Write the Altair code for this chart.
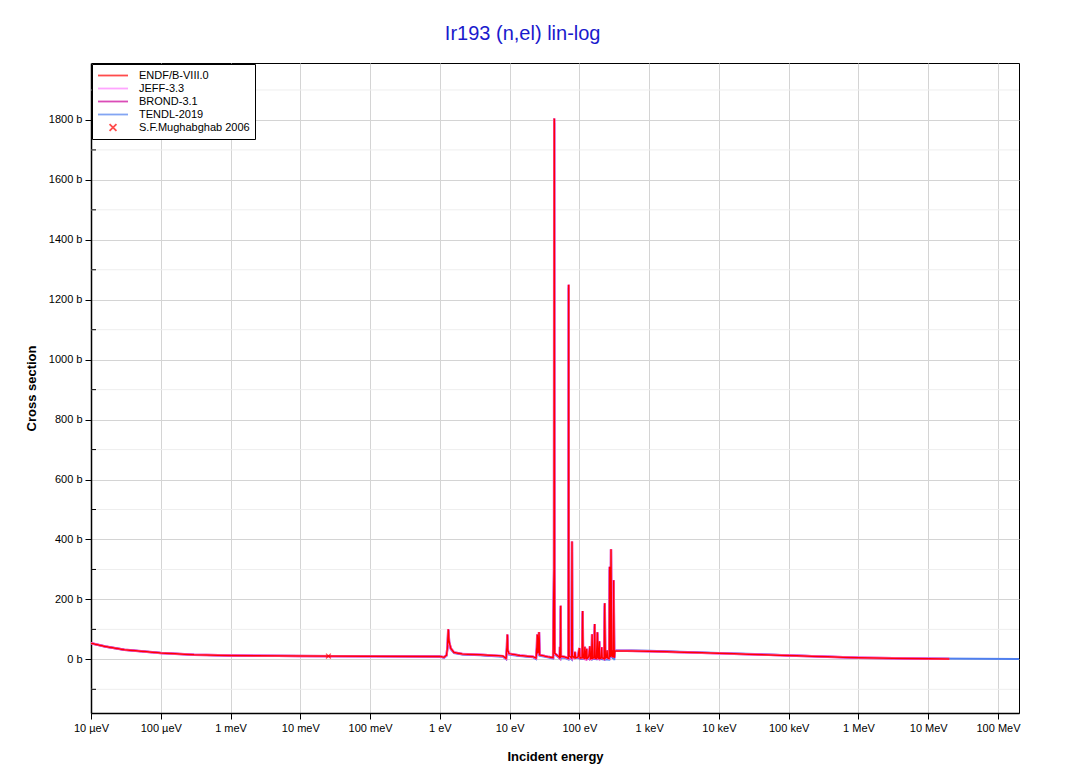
import json
import altair as alt
import pandas as pd

# ---------------- data ----------------
libraries = ["ENDF/B-VIII.0", "JEFF-3.3", "BROND-3.1", "TENDL-2019", "S.F.Mughabghab 2006"]
lib_colors = ["#ff0000", "#ff80ff", "#cc0099", "#4f7fef", "#ff0000"]

endf_energy = [1e-5, 1.6e-5, 3e-5, 1e-4, 3e-4, 1e-3, 1e-2, 0.1, 1.0, 1.15, 1.25, 1.29, 1.32, 1.36, 1.44, 1.6,
               2.1, 3.8, 8.0, 8.9, 9.15, 9.27, 9.45, 9.8, 14, 21.6, 23.9, 24.6, 24.9, 25.3, 25.9, 26.4, 26.9,
               35, 42, 43.3, 43.6, 43.9, 44.4, 50, 52.2, 52.6, 53.0, 53.6, 54.0, 54.4, 62, 69.5, 70.0, 70.3,
               70.6, 71.2, 77.6, 78.4, 79.2, 84, 86.5, 88, 96, 99.7, 102, 109, 111.5, 113, 118, 120, 122, 126,
               127.5, 129, 136, 142, 144, 150, 152, 154, 162, 166, 168, 176, 181, 184, 191, 193, 196, 206, 209,
               212, 226, 231, 235, 246, 249, 253, 267, 272, 276, 280, 284, 289, 298, 302, 305, 310, 316, 324,
               1000, 1e4, 1e5, 1e6, 1e7, 2e7]
endf_xs = [54, 43, 32, 21, 15.5, 13, 11, 10, 9.5, 7, 14, 45, 100, 58, 36, 23,
           18, 15.5, 11, 3, 40, 83, 30, 19, 13, 9, 4, 40, 83, 20, 30, 91, 15,
           9, 6, 300, 1805, 300, 20, 10, 5, 42, 8, 5, 179, 10, 8, 3, 400, 1250,
           300, 12, 4, 393, 10, 6, 25, 5, 8, 38, 4, 5, 161, 6, 3, 42, 5, 3,
           35, 3, 8, 44, 2, 5, 84, 3, 6, 118, 4, 3, 90, 6, 3, 60, 3, 5, 40,
           5, 2, 187, 4, 8, 30, 5, 3, 309, 20, 8, 367, 15, 8, 30, 6, 264, 5, 29,
           27, 20, 13, 5.5, 2.2, 1.5]

# JEFF-3.3 and BROND-3.1 coincide with ENDF/B-VIII.0 at this scale
jeff_energy = list(endf_energy)
jeff_xs = list(endf_xs)
brond_energy = list(endf_energy)
brond_xs = list(endf_xs)

tendl_energy = [1e-5, 1.6e-5, 3e-5, 1e-4, 3e-4, 1e-3, 1e-2, 0.1, 1.0, 1.15, 1.25, 1.29, 1.32, 1.36, 1.44, 1.6,
                2.1, 3.8, 8.0, 8.9, 9.15, 9.27, 9.45, 9.8, 14, 21.6, 23.9, 24.6, 24.9, 25.3, 25.9, 26.4, 26.9,
                35, 42, 43.3, 43.6, 43.9, 44.4, 50, 53.6, 54.0, 54.4, 62, 69.5, 70.0, 70.3, 70.6, 71.2, 77.6,
                78.4, 79.2, 96, 99.7, 102, 109, 111.5, 113, 150, 152, 154, 162, 166, 168, 176, 181, 184, 226,
                231, 235, 267, 272, 276, 280, 284, 289, 305, 310, 316, 324,
                1000, 1e4, 1e5, 1e6, 1e7, 2e8]
tendl_xs = [54, 43, 32, 21, 15.5, 13, 11, 10, 9, 5, 12, 43, 98, 55, 34, 21,
            16, 13.5, 9, 1, 38, 80, 28, 16, 11, 7, 1, 38, 80, 17, 27, 88, 12,
            7, 3, 290, 1790, 290, 16, 7, 2, 170, 6, 5, 0, 390, 1240, 290, 8, 0,
            385, 6, 5, 35, 1, 2, 155, 3, 2, 80, 0, 3, 110, 1, 0, 85, 3, -1,
            180, 0, -1, 300, 16, 4, 360, 12, 2, 255, -3, 30,
            28.5, 21.5, 14, 5.5, 2.5, 1.0]

mugh_energy = [0.0253]
mugh_xs = [11]

x_tick_values = [1e-5, 1e-4, 1e-3, 1e-2, 1e-1, 1, 10, 100, 1e3, 1e4, 1e5, 1e6, 1e7, 1e8]
x_tick_labels = ["10 µeV", "100 µeV", "1 meV", "10 meV", "100 meV", "1 eV", "10 eV", "100 eV",
                 "1 keV", "10 keV", "100 keV", "1 MeV", "10 MeV", "100 MeV"]
y_tick_values = [0, 200, 400, 600, 800, 1000, 1200, 1400, 1600, 1800]
y_minor_values = [-100, 100, 300, 500, 700, 900, 1100, 1300, 1500, 1700, 1900]

# ---------------- tables ----------------
def table(lib, e, s):
    return pd.DataFrame({"energy": e, "xs": s, "library": lib})

df_endf = table(libraries[0], endf_energy, endf_xs)
df_jeff = table(libraries[1], jeff_energy, jeff_xs)
df_brond = table(libraries[2], brond_energy, brond_xs)
df_tendl = table(libraries[3], tendl_energy, tendl_xs)
df_mugh = table(libraries[4], mugh_energy, mugh_xs)
df_minor = pd.DataFrame({"xs": y_minor_values})

# ---------------- scales / axes ----------------
FONT = "Liberation Sans"
x_scale = alt.Scale(type="log", domain=[1e-5, 2e8], nice=False)
y_scale = alt.Scale(domain=[-179, 1990], nice=False, zero=False)

label_expr = json.dumps(x_tick_labels, ensure_ascii=False) + "[round(log(datum.value)/LN10) + 5]"
x_axis = alt.Axis(values=x_tick_values, labelExpr=label_expr, title="Incident energy",
                  grid=True, gridColor="#d4d4d4", gridWidth=1,
                  tickSize=6, tickColor="black", domainColor="black", domainWidth=1.5,
                  labelFontSize=11, labelColor="black", labelPadding=3, labelFlush=False,
                  titleFontSize=13, titleFontWeight="bold", titlePadding=17, titleColor="black")
y_axis = alt.Axis(values=y_tick_values, labelExpr="datum.value + ' b'", title="Cross section",
                  grid=True, gridColor="#d4d4d4", gridWidth=1,
                  tickSize=6, tickColor="black", domainColor="black", domainWidth=1.5,
                  labelFontSize=11, labelColor="black", labelPadding=3,
                  titleFontSize=13, titleFontWeight="bold", titlePadding=10, titleColor="black")

X = alt.X("energy:Q", scale=x_scale, axis=x_axis)
Y = alt.Y("xs:Q", scale=y_scale, axis=y_axis)

line_path = "M-1,0L1,0"
cross_path = "M-0.23,-0.23L0.23,0.23M-0.23,0.23L0.23,-0.23"
legend = alt.Legend(title=None, orient="top-left", offset=1, padding=5,
                    strokeColor="black", fillColor="white", cornerRadius=0,
                    labelFont=FONT, labelFontSize=11, labelColor="black", labelOffset=10,
                    symbolSize=900, symbolStrokeWidth=1.8, clipHeight=13, rowPadding=0)
color_enc = alt.Color("library:N", scale=alt.Scale(domain=libraries, range=lib_colors), legend=legend)
shape_enc = alt.Shape("library:N", scale=alt.Scale(domain=libraries,
                      range=[line_path, line_path, line_path, line_path, cross_path]), legend=legend)

minor_grid = alt.Chart(df_minor).mark_rule(color="#eeeeee", strokeWidth=1).encode(y=Y)
minor_ticks = alt.Chart(df_minor).mark_rule(color="black", strokeWidth=1).encode(
    y=Y, x=alt.value(0), x2=alt.value(5))

def line_layer(df, width):
    return alt.Chart(df).mark_line(strokeWidth=width, clip=True).encode(
        x=X, y=Y, color=color_enc, order=alt.Order("energy:Q"))

tendl = line_layer(df_tendl, 2.0)
brond = line_layer(df_brond, 2.4)
jeff = line_layer(df_jeff, 2.2)
endf = line_layer(df_endf, 1.5)

mugh = alt.Chart(df_mugh).mark_point(filled=False, size=450, strokeWidth=1.2).encode(
    x=X, y=Y, color=color_enc, shape=shape_enc)

chart = alt.layer(minor_grid, minor_ticks, tendl, brond, jeff, endf, mugh).properties(
    width=928, height=650,
    autosize=alt.AutoSizeParams(type="none"),
    padding={"left": 83, "top": 55, "right": 40, "bottom": 52},
    title=alt.TitleParams("Ir193 (n,el) lin-log", color="#1a1acd", fontSize=20, fontWeight="normal",
                          font=FONT, anchor="middle", frame="bounds", offset=19),
    background="white",
).configure(font=FONT).configure_view(stroke="black", strokeWidth=1)

chart.save("out.html", embed_options={"renderer": "svg", "actions": False})
